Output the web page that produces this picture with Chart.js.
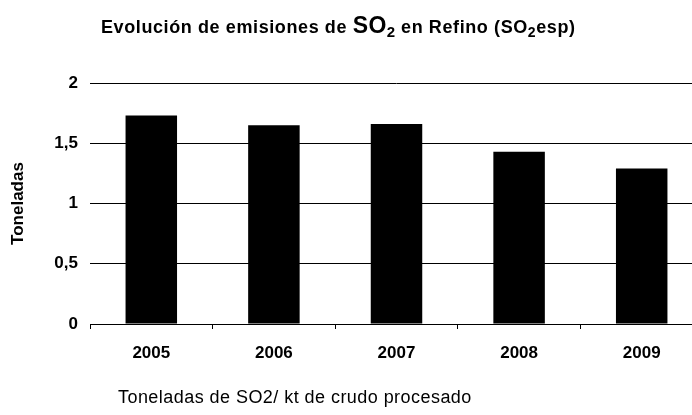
<!DOCTYPE html>
<html lang="es">
<head>
  <meta charset="UTF-8">
  <title>Evolución de emisiones de SO2 en Refino</title>
  <script src="https://cdn.jsdelivr.net/npm/chart.js"></script>
  <style>
    body {
      margin: 0;
      background: #fff;
      font-family: 'Liberation Sans', Arial, sans-serif;
    }

    .wrap {
      position: relative;
      width: 692px;
      height: 415px;
      overflow: hidden;
    }

    canvas {
      position: absolute;
      left: 0;
      top: 0;
    }

    .titulo {
      position: absolute;
      left: 101px;
      top: 13px;
      font-size: 18px;
      letter-spacing: 0.6px;
      font-weight: bold;
      white-space: nowrap;
      line-height: 24px;
      color: #000;
    }

    .titulo .big { font-size: 23px; letter-spacing: 0.4px; }
    .titulo sub { font-size: 15px; line-height: 0; vertical-align: -4px; }
    .titulo sub.small { font-size: 14px; }

    .nota {
      position: absolute;
      left: 118px;
      top: 387px;
      font-size: 18px;
      letter-spacing: 0.45px;
      white-space: nowrap;
      color: #000;
    }
  </style>
</head>
<body>

<div class="wrap">
  <canvas id="chart" width="720" height="415"></canvas>
  <div class="titulo">Evolución de emisiones de <span class="big">SO<sub>2</sub></span> en Refino (SO<sub class="small">2</sub>esp)</div>
  <div class="nota">Toneladas de SO2/ kt de crudo procesado</div>
</div>

<script>
  const anios = ['2005', '2006', '2007', '2008', '2009'];
  const emisiones = [1.73, 1.65, 1.66, 1.43, 1.29];
  const yMin = 0;
  const yMax = 2;
  const yPaso = 0.5;

  const fuente = "'Liberation Sans', Arial, sans-serif";

  new Chart(document.getElementById('chart'), {
    type: 'bar',
    data: {
      labels: anios,
      datasets: [{
        label: 'Toneladas',
        data: emisiones,
        backgroundColor: '#000',
        borderWidth: 0,
        barPercentage: 0.42,
        categoryPercentage: 1
      }]
    },
    options: {
      responsive: false,
      animation: false,
      layout: {
        padding: { top: 83, right: 17, bottom: 20, left: 0 }
      },
      plugins: {
        legend: { display: false },
        tooltip: { enabled: false }
      },
      scales: {
        x: {
          grid: {
            offset: true,
            drawOnChartArea: false,
            drawTicks: true,
            tickLength: 5,
            color: '#000'
          },
          border: { display: true, color: '#000', width: 1 },
          ticks: {
            color: '#000',
            padding: 14,
            font: { family: fuente, size: 17, weight: 'bold' }
          },
          afterFit: (scale) => { scale.height = 71; }
        },
        y: {
          min: yMin,
          max: yMax,
          grid: {
            color: '#000',
            lineWidth: 1,
            drawTicks: false
          },
          border: { display: false },
          ticks: {
            stepSize: yPaso,
            color: '#000',
            padding: 12,
            font: { family: fuente, size: 17, weight: 'bold' },
            callback: (v) => String(v).replace('.', ',')
          },
          title: {
            display: true,
            text: 'Toneladas',
            color: '#000',
            padding: { top: 8, bottom: 0 },
            font: { family: fuente, size: 17, weight: 'bold' }
          },
          afterFit: (scale) => { scale.width = 90; }
        }
      }
    }
  });
</script>
</body>
</html>
